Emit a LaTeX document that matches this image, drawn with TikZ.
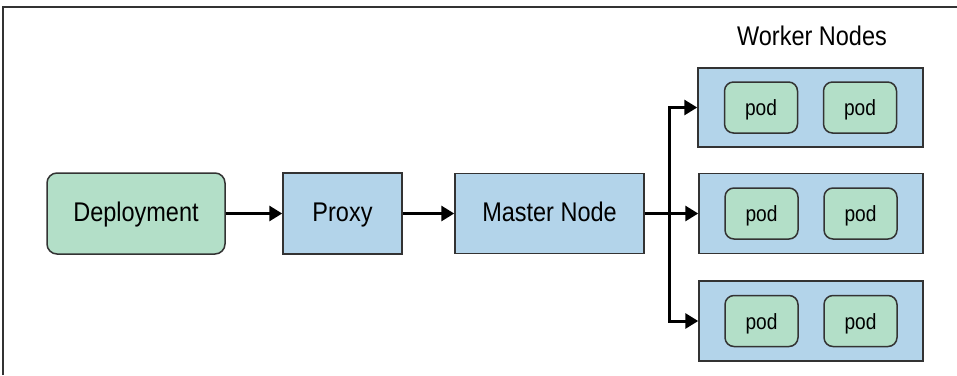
\documentclass[tikz,border=0pt]{standalone}
\usepackage{fontspec}
\setmainfont{Liberation Sans}[FakeStretch=0.87]
\usetikzlibrary{arrows.meta}
\definecolor{podgreen}{HTML}{B3DFC8}
\definecolor{nodeblue}{HTML}{B3D4EA}
\definecolor{edgegray}{HTML}{333333}
\tikzset{
  bigtext/.style={font=\fontsize{27}{32}\selectfont, text height=19.3pt, text depth=3pt},
  box/.style={draw=edgegray, line width=1.5pt, fill=nodeblue, inner sep=0pt, bigtext},
  greenbox/.style={draw=edgegray, line width=1.5pt, fill=podgreen, rounded corners=10pt, inner sep=0pt, bigtext},
  podbox/.style={draw=edgegray, line width=1.5pt, fill=podgreen, rounded corners=9pt, inner sep=0pt, minimum width=73pt, minimum height=51pt, font=\fontsize{22}{26}\selectfont, text height=17pt, text depth=0.6pt},
  arr/.style={line width=3pt, -{Triangle[length=13pt,width=15pt]}},
  frameline/.style={draw=edgegray, line width=1.5pt}
}
\begin{document}
\begin{tikzpicture}[x=1pt,y=-1pt]
\useasboundingbox (0,0) rectangle (957,375);
\draw[frameline] (3,375) -- (3,7) -- (957,7);
\node[greenbox, minimum width=178pt, minimum height=81pt] (dep) at (136,213.5) {Deployment};
\node[box, minimum width=119pt, minimum height=81pt] (proxy) at (342.5,213.5) {Proxy};
\node[box, minimum width=189pt, minimum height=80pt] (master) at (549.5,213.5) {Master Node};
\node[font=\fontsize{27}{32}\selectfont, text height=19.3pt, text depth=0pt, inner sep=0pt] (wlabel) at (812,35.8) {Worker Nodes};
\node[box, minimum width=225pt, minimum height=79pt] (w1) at (810.5,107.5) {};
\node[box, minimum width=224pt, minimum height=80pt] (w2) at (811,213.5) {};
\node[box, minimum width=224pt, minimum height=80pt] (w3) at (811,321) {};
\foreach \w in {w1,w2,w3}{
  \node[podbox] (\w a) at ([xshift=-49.5pt]\w.center) {pod};
  \node[podbox] (\w b) at ([xshift=49.5pt]\w.center) {pod};
}
\coordinate (branch) at (669,213.5);
\draw[arr] (dep) -- (proxy);
\draw[arr] (proxy) -- (master);
\draw[arr] (master.east) -- (w2.west);
\draw[arr] (branch) |- (w1.west);
\draw[arr] (branch) |- (w3.west);
\end{tikzpicture}
\end{document}
